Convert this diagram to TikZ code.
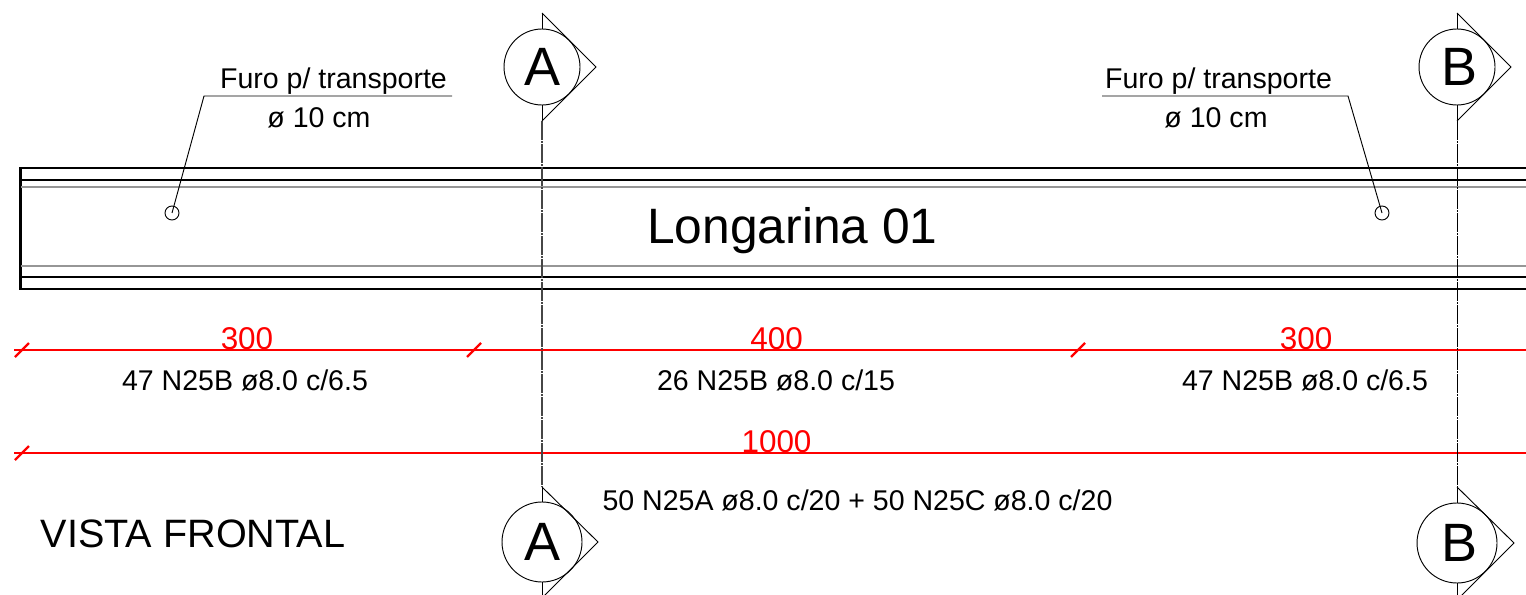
\documentclass[tikz,border=0pt]{standalone}
\usepackage{fontspec}
\setmainfont{Liberation Sans}
\definecolor{beamgray}{RGB}{150,150,150}
\definecolor{axisgray}{RGB}{70,70,70}
\tikzset{
  x=0.75pt,y=-0.75pt,
  beam/.style={black,line width=1.6pt},
  beamsoft/.style={beamgray,line width=2pt},
  dimline/.style={red,line width=1.7pt},
  axisline/.style={axisgray,line width=1pt,dash pattern=on 14.4pt off 0.9pt on 1.05pt off 0.9pt},
  thinline/.style={black,line width=0.7pt},
  marker/.style={circle,draw=black,line width=0.7pt,fill=white,inner sep=0pt},
  markersmall/.style={marker,minimum size=57pt,font=\fontsize{40.5}{44}\selectfont},
  markerbig/.style={marker,minimum size=60pt,font=\fontsize{40.5}{44}\selectfont},
  hole/.style={circle,draw=black,line width=0.7pt,inner sep=0pt,minimum size=10.5pt},
  label/.style={inner sep=0pt,black,font=\fontsize{21.4}{25}\selectfont},
  dimtext/.style={inner sep=0pt,red,font=\fontsize{23.6}{27}\selectfont},
}
\begin{document}
\begin{tikzpicture}
\useasboundingbox (0,0) rectangle (1526,595);
\clip (0,0) rectangle (1526,595);
\fill[white] (0,0) rectangle (1526,595);

% dimension lines
\coordinate (d1s) at (22,350); \coordinate (d1a) at (474,350); \coordinate (d1b) at (1078,350); \coordinate (d1e) at (1526,350);
\coordinate (d2s) at (22,453); \coordinate (d2e) at (1526,453);
\draw[dimline] (14,350) -- (d1e);
\draw[dimline] (14,453) -- (d2e);
\foreach \c in {d1s,d1a,d1b,d2s} \draw[dimline] ([shift={(-7,7)}]\c) -- ([shift={(7,-7)}]\c);

% beam
\draw[beam] (1526,168) -- (20.5,168) -- (20.5,289) -- (1526,289);
\draw[beam] (20,180) -- (1526,180);
\draw[beam] (20,277) -- (1526,277);
\draw[beamsoft] (21,187) -- (1526,187);
\draw[beamsoft] (21,266) -- (1526,266);

% section axes
\node[markersmall] (At) at (542,67) {\hspace{1pt}\raisebox{-1.8pt}{A}};
\node[markerbig]   (Ab) at (542,542) {\hspace{1pt}\raisebox{-1.8pt}{A}};
\node[markersmall] (Bt) at (1457,67) {\hspace{3pt}\raisebox{-1.8pt}{B}};
\node[markerbig]   (Bb) at (1457,543) {\hspace{3pt}\raisebox{-1.8pt}{B}};
\coordinate (Atop) at (542,13);
\coordinate (Amid) at (542,121);
\coordinate (Abt) at (542,487);
\coordinate (Abe) at (542,595);
\coordinate (Btop) at (1457,13);
\coordinate (Bmid) at (1457,121);
\coordinate (Bbt) at (1457,487);
\coordinate (Bbe) at (1457,595);
\draw[axisline] (Amid) -- (Abt);
\draw[axisline,line width=0.7pt,black] (Bmid) -- (Bbt);
\draw[thinline] (Atop) -- (At.north) (At.south) -- (Amid);
\draw[thinline] (Abt) -- (Ab.north) (Ab.south) -- (Abe);
\draw[thinline] (Btop) -- (Bt.north) (Bt.south) -- (Bmid);
\draw[thinline] (Bbt) -- (Bb.north) (Bb.south) -- (Bbe);
\draw[thinline] (Atop) -- (596,67) -- (Amid);
\draw[thinline] (Abt) -- (598,542) -- (542,598);
\draw[thinline] (Btop) -- (1511,67) -- (Bmid);
\draw[thinline] (Bbt) -- (1514,543) -- (1457,600);

% holes with leaders
\node[hole] (h1) at (172,213) {};
\node[hole] (h2) at (1382,213) {};
\coordinate (h1c) at (172,213);
\coordinate (h2c) at (1382,213);
\coordinate (l1a) at (204,96); \coordinate (l1b) at (452,96);
\coordinate (l2a) at (1348,96); \coordinate (l2b) at (1102,96);
\draw[thinline] (h1c) -- (l1a) -- (l1b);
\draw[thinline] (h2c) -- (l2a) -- (l2b);

% texts
\node[label] (t1) at (333.5,81) {Furo p/ transporte};
\node[label] (t2) at (319,118) {ø 10 cm};
\node[label] (t3) at (1218.5,81) {Furo p/ transporte};
\node[label] (t4) at (1216,118) {ø 10 cm};
\node[inner sep=0pt,font=\fontsize{37.3}{44}\selectfont] (title) at (792.5,230.5) {Longarina 01};
\node[dimtext] (n300a) at (247,339) {300};
\node[dimtext] (n400) at (776.5,339) {400};
\node[dimtext] (n300b) at (1306,339) {300};
\node[dimtext] (n1000) at (776.5,441.5) {1000};
\node[label] (s1) at (245,380) {47 N25B ø8.0 c/6.5};
\node[label] (s2) at (776,380) {26 N25B ø8.0 c/15};
\node[label] (s3) at (1305,380) {47 N25B ø8.0 c/6.5};
\node[label] (s4) at (857.5,500) {50 N25A ø8.0 c/20 + 50 N25C ø8.0 c/20};
\node[inner sep=0pt,font=\fontsize{29.7}{34}\selectfont] (vf) at (193,534) {VISTA FRONTAL};
\end{tikzpicture}
\end{document}
